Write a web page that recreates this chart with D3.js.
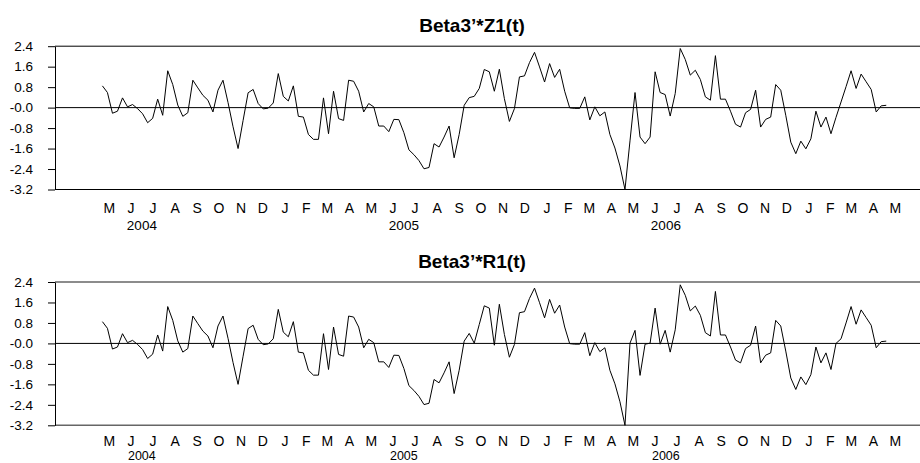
<!DOCTYPE html>
<html>
<head>
<meta charset="utf-8">
<script src="https://cdn.jsdelivr.net/npm/d3@7"></script>
<style>
  body { margin: 0; background: #fff; }
  svg { display: block; font-family: "Liberation Sans", Arial, sans-serif; }
</style>
</head>
<body>
<div id="chart"></div>
<script>
// weekly observations, first one on 7 May 2004
const firstWeek = new Date(2004, 4, 7);

const z1 = [
  0.85, 0.59, -0.22, -0.14, 0.38, 0.03, 0.12, -0.04, -0.24, -0.59,
  -0.42, 0.33, -0.30, 1.44, 0.90, 0.10, -0.34, -0.20, 1.07, 0.77,
  0.48, 0.29, -0.17, 0.68, 1.07, 0.20, -0.75, -1.60, -0.50, 0.58,
  0.71, 0.16, -0.05, -0.02, 0.18, 1.33, 0.44, 0.26, 0.85, -0.34,
  -0.37, -1.05, -1.24, -1.24, 0.38, -1.02, 0.64, -0.43, -0.50, 1.07,
  1.03, 0.64, -0.17, 0.16, 0.03, -0.72, -0.72, -0.94, -0.46, -0.47,
  -0.98, -1.65, -1.84, -2.07, -2.39, -2.34, -1.41, -1.54, -1.15, -0.72,
  -1.96, -1.05, 0.09, 0.39, 0.44, 0.75, 1.49, 1.40, 0.64, 1.50,
  0.35, -0.54, -0.04, 1.20, 1.24, 1.76, 2.16, 1.59, 1.00, 1.72,
  1.18, 1.50, 0.64, -0.01, -0.03, -0.03, 0.42, -0.48, 0.03, -0.32,
  -0.17, -1.05, -1.58, -2.28, -3.20, -1.30, 0.59, -1.15, -1.41, -1.15,
  1.40, 0.59, 0.51, -0.33, 0.55, 2.31, 1.88, 1.27, 1.46, 1.10,
  0.42, 0.29, 2.03, 0.33, 0.33, -0.14, -0.65, -0.76, -0.20, -0.07,
  0.68, -0.76, -0.46, -0.37, 0.90, 0.68, -0.30, -1.35, -1.80, -1.31,
  -1.61, -1.22, -0.14, -0.76, -0.37, -1.02, -0.38, 0.22, 0.82, 1.44,
  0.75, 1.31, 1.01, 0.71, -0.17, 0.07, 0.09
];

const r1 = [
  0.85, 0.59, -0.22, -0.14, 0.38, 0.03, 0.12, -0.04, -0.24, -0.59,
  -0.42, 0.33, -0.30, 1.44, 0.90, 0.10, -0.34, -0.20, 1.07, 0.77,
  0.48, 0.29, -0.17, 0.68, 1.07, 0.20, -0.75, -1.60, -0.50, 0.58,
  0.71, 0.16, -0.05, -0.02, 0.18, 1.33, 0.44, 0.26, 0.85, -0.34,
  -0.37, -1.05, -1.24, -1.24, 0.38, -1.02, 0.64, -0.43, -0.50, 1.07,
  1.03, 0.64, -0.17, 0.16, 0.03, -0.72, -0.72, -0.94, -0.46, -0.47,
  -0.98, -1.65, -1.84, -2.07, -2.39, -2.34, -1.41, -1.54, -1.15, -0.72,
  -1.96, -1.05, 0.09, 0.39, 0.01, 0.74, 1.47, 1.38, -0.07, 1.53,
  0.35, -0.54, -0.04, 1.20, 1.24, 1.76, 2.16, 1.59, 1.00, 1.72,
  1.18, 1.50, 0.64, -0.01, -0.03, -0.03, 0.42, -0.48, 0.03, -0.32,
  -0.17, -1.05, -1.58, -2.28, -3.20, 0.01, 0.51, -1.25, -0.03, 0.01,
  1.38, -0.03, 0.51, -0.34, 0.53, 2.29, 1.88, 1.27, 1.46, 1.10,
  0.42, 0.29, 2.03, 0.33, 0.33, -0.14, -0.65, -0.76, -0.20, -0.07,
  0.68, -0.76, -0.46, -0.37, 0.90, 0.68, -0.30, -1.35, -1.80, -1.31,
  -1.61, -1.22, -0.14, -0.76, -0.37, -1.02, 0.00, 0.18, 0.80, 1.44,
  0.75, 1.31, 1.01, 0.71, -0.17, 0.07, 0.09
];

const yTicks = [-3.2, -2.4, -1.6, -0.8, 0, 0.8, 1.6, 2.4];
const yTickLabels = ["-3.2", "-2.4", "-1.6", "-0.8", "-0.0", "0.8", "1.6", "2.4"];
const monthLetters = ["J", "F", "M", "A", "M", "J", "J", "A", "S", "O", "N", "D"];
const years = [2004, 2005, 2006];
const titles = ["Beta3\u2019*Z1(t)", "Beta3\u2019*R1(t)"];

const W = 920, H = 463;
const svg = d3.select("#chart").append("svg").attr("width", W).attr("height", H);

const x = d3.scaleTime()
  .domain([new Date(2004, 4, 1), new Date(2007, 4, 1)])
  .range([98.1, 884.1]);

const weeks = z1.map((d, i) => d3.timeDay.offset(firstWeek, 7 * i));
const months = d3.timeMonth.range(new Date(2004, 4, 1), new Date(2007, 5, 1));

function panel(values, title, top, lineColor, lineWidth, lab) {
  const y = d3.scaleLinear().domain([-3.2, 2.4]).range([top + 143.3, top]);
  const g = svg.append("g");

  g.append("text")
    .attr("x", 472).attr("y", top - 14.5)
    .attr("text-anchor", "middle")
    .attr("font-weight", "bold").attr("font-size", 19)
    .text(title);

  // top / bottom frame
  [2.4, -3.2].forEach(v => {
    g.append("line")
      .attr("x1", 55).attr("x2", W)
      .attr("y1", y(v)).attr("y2", y(v))
      .attr("stroke", lineColor).attr("stroke-width", lineWidth);
  });

  const axis = g.append("g")
    .attr("transform", "translate(55,0)")
    .call(d3.axisLeft(y).tickValues(yTicks).tickSize(7).tickSizeOuter(0).tickPadding(15)
      .tickFormat((d, i) => yTickLabels[i]));
  axis.selectAll("path, line").attr("stroke", "#000");
  axis.selectAll("text").attr("font-size", 13.5).attr("fill", "#000")
    .attr("font-family", "Liberation Sans, Arial, sans-serif");

  g.append("line")
    .attr("x1", 55).attr("x2", W)
    .attr("y1", y(0)).attr("y2", y(0))
    .attr("stroke", "#000");

  g.append("path")
    .datum(values)
    .attr("fill", "none").attr("stroke", "#000").attr("stroke-width", 1)
    .attr("d", d3.line().x((d, i) => x(weeks[i])).y(d => y(d)));

  g.selectAll(".mon").data(months).enter().append("text")
    .attr("x", d => (x(d) + x(d3.timeMonth.offset(d, 1))) / 2)
    .attr("y", top + lab.month)
    .attr("text-anchor", "middle").attr("font-size", 14)
    .text(d => monthLetters[d.getMonth()]);

  g.selectAll(".yr").data(years).enter().append("text")
    .attr("x", d => x(new Date(d, 6, 1)))
    .attr("y", top + lab.year)
    .attr("text-anchor", "middle").attr("font-size", lab.yearSize)
    .text(d => d);
}

panel(z1, titles[0], 46.2, "#000", 1, {month: 167, year: 183.3, yearSize: 13.5});
panel(r1, titles[1], 282, "#666", 1.5, {month: 164, year: 178.3, yearSize: 12.5});
</script>
</body>
</html>
